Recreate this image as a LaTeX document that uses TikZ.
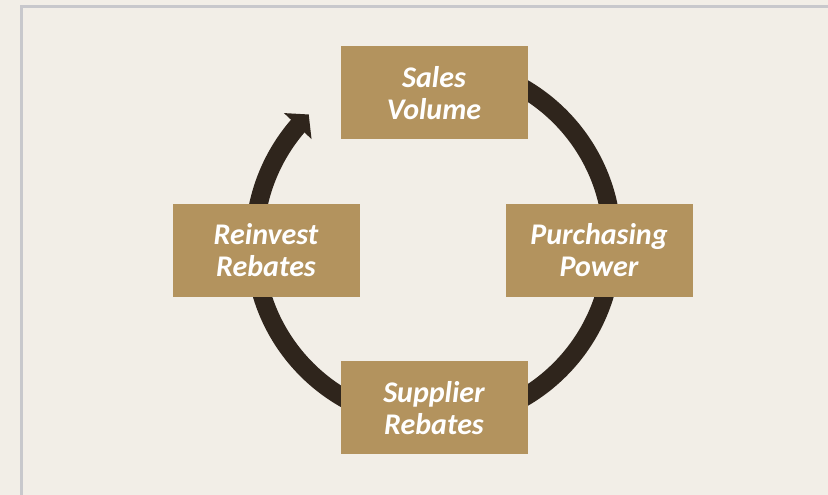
\documentclass[tikz,border=0pt]{standalone}
\usepackage{fontspec}
\usepackage{tikz}
\usetikzlibrary{arrows.meta,bending}
\setmainfont{Carlito}

\definecolor{paper}{RGB}{242,238,231}
\definecolor{framegray}{RGB}{200,200,204}
\definecolor{tan}{RGB}{179,147,94}
\definecolor{cycledark}{RGB}{47,37,28}

\begin{document}
\begin{tikzpicture}[%
        x=1pt, y=1pt,
        node distance=157.5pt,
        block/.style={rectangle, fill=tan, text=white, align=center, inner sep=0pt, minimum width=187pt, minimum height=93pt, font=\fontsize{30}{32}\selectfont\bfseries\itshape},
        cycle/.style={draw=cycledark, line width=18.5pt, -{Triangle[width=37pt, length=16pt]}}]
        % Background
        \useasboundingbox[fill=paper] (0,0) rectangle (828,495);
        \draw[framegray, line width=2.5pt] (21.3,0) -- (21.3,488.3) -- (828,488.3);

        % Cycle
        \coordinate (hub) at (433.3,252);
        \draw[cycle] ([shift={(90:179)}]hub) arc[start angle=90, end angle=-225.9, radius=179];

        % Nodes
        \node [block] (sales) at (434,402) {Sales\\Volume};
        \node [block, below of=sales, xshift=-168pt] (reinvest) {Reinvest\\Rebates};
        \node [block, below of=sales, xshift=165pt] (purchasing) {Purchasing\\Power};
        \node [block, below of=reinvest, xshift=168pt] (supplier) {Supplier\\Rebates};
    \end{tikzpicture}
\end{document}
